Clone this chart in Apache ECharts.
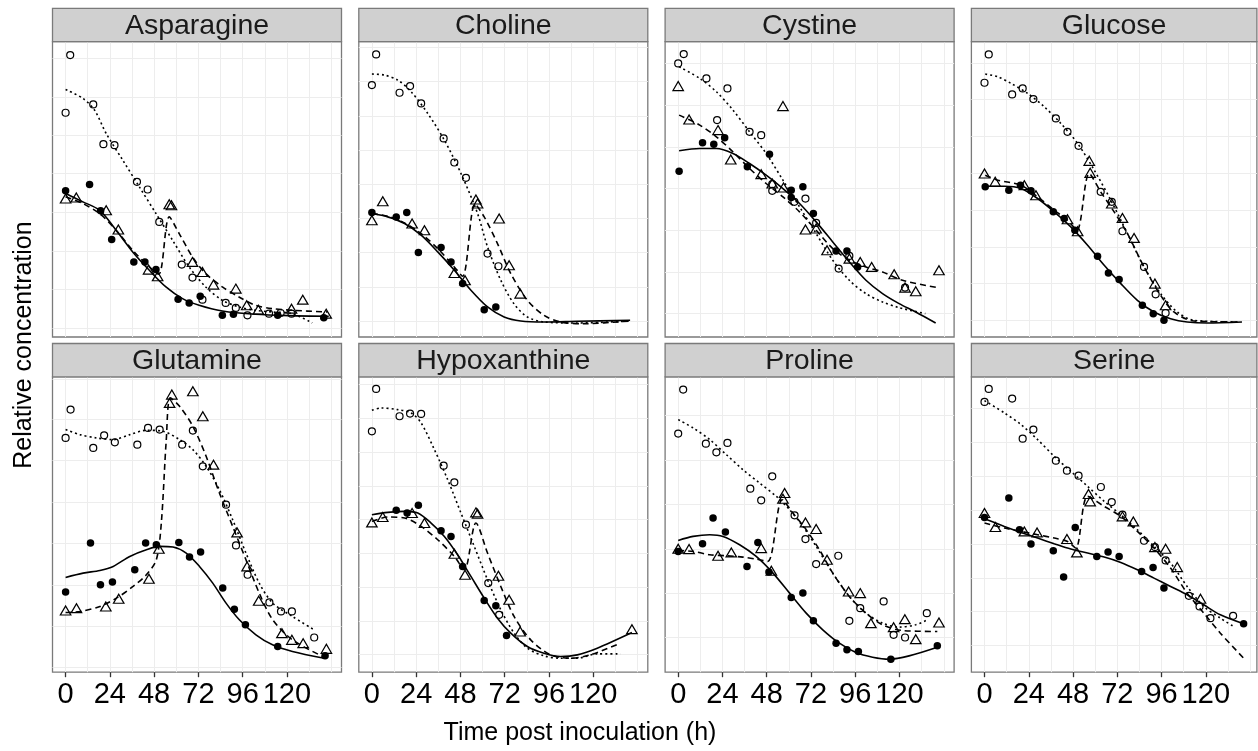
<!DOCTYPE html>
<html>
<head>
<meta charset="utf-8">
<script src="https://cdn.jsdelivr.net/npm/echarts@6/dist/echarts.min.js"></script>
<style>html,body{margin:0;padding:0;background:#fff;}#c{width:1258px;height:751px;}</style>
</head>
<body>
<div id="c"></div>
<script>
// ---------- data: [time (h), relative concentration] ----------
const panelNames = ['Asparagine','Choline','Cystine','Glucose','Glutamine','Hypoxanthine','Proline','Serine'];
const xTicks = [0,24,48,72,96,120];
const xGrid = [0,12,24,36,48,60,72,84,96,108,120,132,144];

const asnFilled = [[0,4.38],[13,4.57],[19,3.78],[25,2.92],[37,2.25],[43,2.25],[49,2.02],[61,1.13],[67,1.02],[73,1.22],[85,0.65],[91,0.68],[115,0.65],[140,0.58]];
const asnOpen = [[0,6.72],[2.5,8.45],[15,6.97],[20.5,5.78],[26.5,5.75],[38.7,4.65],[44.5,4.42],[50.8,3.45],[63,2.17],[68.8,1.78],[74.2,1.12],[86.8,1.02],[92.3,0.87],[98.6,0.65],[110.3,0.7],[116.6,0.72],[122.5,0.7]];
const asnTri = [[0,4.15],[5.8,4.18],[22,3.8],[28.6,3.22],[45,2.02],[49.9,1.82],[56.2,3.98],[57.4,3.95],[68.8,2.25],[74.2,1.95],[80.2,1.57],[92.3,1.45],[98.2,0.95],[104.5,0.82],[122.5,0.85],[128.6,1.12],[141.3,0.7]];
const asnSolid = [[0,4.3],[9.4,4.05],[18.4,3.8],[27.4,3.2],[36.4,2.55],[45.4,2.0],[54.4,1.5],[63.4,1.15],[72.4,0.95],[85,0.78],[103,0.68],[121,0.64],[142.7,0.62]];
const asnDotted = [[0,7.42],[9.4,7.15],[15.7,6.8],[22,6.1],[31,5.3],[40,4.5],[49,3.7],[58,2.9],[67,2.1],[76,1.5],[85,1.1],[94,0.9],[103,0.8],[112,0.75],[123,0.7],[133.7,0.42]];
const asnDashed = [[0,4.2],[9.4,4.0],[18.4,3.7],[27.4,3.2],[36.4,2.6],[45.4,2.1],[50.5,1.88],[56.2,3.6],[61.6,3.1],[68.8,2.4],[76,1.9],[85,1.5],[94,1.2],[103,0.95],[112,0.85],[123,0.8],[142,0.75]];
const asnGrid = [0.25,1.42,2.58,3.73,4.9,6.05,7.2,8.35];

const choFilled = [[0,3.73],[13.2,3.6],[18.9,3.73],[25.2,2.53],[37.5,2.68],[42.9,2.25],[49.2,1.6],[60.9,0.82],[67.2,0.9]];
const choOpen = [[0,7.55],[2.3,8.47],[15,7.32],[20.7,7.52],[26.7,7.0],[38.9,5.95],[44.7,5.23],[51,4.77],[62.7,2.5],[68.6,2.12]];
const choTri = [[0,3.5],[5.9,4.07],[21.8,3.4],[28.5,3.2],[44.7,1.92],[50.5,1.7],[56.4,4.12],[57.3,4.0],[69,3.55],[74.4,2.15],[80.4,1.3]];
const choSolid = [[0,3.7],[8.6,3.6],[17.7,3.4],[26.7,3.05],[35.7,2.55],[44.7,2.0],[53.7,1.4],[62.7,0.9],[71.7,0.6],[80.7,0.48],[93.3,0.45],[111,0.47],[140,0.5]];
const choDotted = [[0,7.88],[6.8,7.85],[14,7.7],[21.3,7.35],[30.3,6.7],[39.3,5.9],[48.3,4.9],[57.3,3.7],[62.7,2.7],[69.9,1.7],[77,1.0],[84.3,0.6],[93.3,0.45],[111,0.42],[140,0.48]];
const choDashed = [[0,3.7],[8.6,3.62],[17.7,3.42],[26.7,3.1],[35.7,2.65],[44.7,2.1],[49.2,1.82],[55.9,3.98],[60.9,3.6],[68.1,2.8],[75.3,1.9],[84.3,1.1],[93.3,0.65],[102.3,0.45],[115,0.4],[140,0.48]];
const choGrid = [0.48,1.5,2.53,3.55,4.58,5.6,6.63,7.65,8.68];

const cysFilled = [[0.5,4.97],[13.2,5.82],[19.3,5.78],[25.2,5.97],[37.5,5.1],[49.5,5.48],[61.3,4.4],[61.3,4.18],[67.6,4.5],[73.3,3.7],[85.6,2.58],[91.5,2.58],[97.3,2.1]];
const cysOpen = [[0,8.2],[3,8.48],[15.3,7.75],[21.1,6.5],[26.7,7.45],[38.7,6.15],[45,6.05],[51,4.58],[51,4.38],[63,4.05],[69,4.15],[74.8,3.42],[87,2.05],[92.8,2.43],[123,1.48]];
const cysTri = [[0,7.52],[5.9,6.52],[21.6,6.2],[28.5,5.32],[45,4.88],[51,4.6],[56.8,6.92],[57.1,4.48],[69,3.22],[74.8,3.25],[80.7,2.6],[92.8,2.35],[98.7,2.25],[104.9,2.1],[117.1,1.88],[123,1.48],[128.8,1.37],[141.4,2.0]];
const cysSolid = [[0.5,5.58],[11.7,5.65],[20.7,5.65],[29.7,5.5],[38.7,5.2],[47.7,4.85],[56.8,4.45],[65.8,4.0],[74.8,3.45],[83.8,2.85],[92.8,2.25],[101.8,1.7],[110.8,1.3],[119.8,1.0],[128.8,0.75],[139.6,0.42]];
const cysDotted = [[0.5,8.1],[11.7,7.75],[20.7,7.35],[29.7,6.8],[38.7,6.15],[47.7,5.5],[56.8,4.7],[65.8,3.9],[74.8,3.1],[83.8,2.3],[92.8,1.7],[101.8,1.3],[110.8,1.05],[119.8,0.88],[134,0.7]];
const cysDashed = [[0.5,6.65],[11.7,6.35],[20.7,6.0],[29.7,5.55],[38.7,5.05],[47.7,4.6],[56.8,4.2],[65.8,3.75],[74.8,3.2],[83.8,2.65],[92.8,2.3],[101.8,2.1],[110.8,1.95],[121.6,1.7],[140.5,1.48]];
const cysGrid = [0.7,1.95,3.2,4.45,5.7,6.95,8.2];

const gluFilled = [[0.4,4.5],[13.2,4.4],[19.5,4.55],[25.2,4.38],[37.3,3.75],[43.2,3.55],[49,3.2],[61.3,2.42],[67.2,1.92],[73,1.72],[85.6,0.95],[91.5,0.7],[97.3,0.5]];
const gluOpen = [[0,7.62],[2.3,8.47],[15,7.27],[20.7,7.45],[26.5,7.13],[38.7,6.55],[45,6.15],[51,5.73],[63,4.35],[69,4.05],[74.8,3.17],[86.5,2.1],[92.8,1.28],[98.2,0.72]];
const gluTri = [[0,4.9],[5.8,4.65],[21.6,4.55],[27.9,4.25],[45,3.53],[50.5,3.17],[56.8,5.28],[57.3,4.92],[69,4.0],[74.8,3.57],[81.1,2.97],[92.4,1.6],[98.2,0.95]];
const gluSolid = [[0.4,4.52],[10.8,4.52],[19.8,4.45],[28.8,4.15],[37.8,3.75],[46.8,3.3],[55.9,2.75],[64.9,2.15],[73.9,1.6],[82.9,1.1],[91.9,0.75],[100.9,0.55],[109.9,0.45],[120.7,0.42],[139.6,0.45]];
const gluDotted = [[0.4,7.88],[7.2,7.8],[14.4,7.6],[23.4,7.3],[32.4,6.9],[41.4,6.4],[50.5,5.8],[59.5,5.0],[68.5,4.1],[77.5,3.1],[86.5,2.1],[95.5,1.3],[104.5,0.75],[113.5,0.5],[138.7,0.45]];
const gluDashed = [[0.4,4.85],[7.2,4.7],[19.8,4.55],[28.8,4.2],[37.8,3.8],[45,3.5],[50.1,3.2],[56.8,4.9],[63,4.35],[70.3,3.75],[77.5,3.1],[86.5,2.1],[95.5,1.25],[102.7,0.75],[113.5,0.48],[138.7,0.45]];
const gluGrid = [0.5,1.6,2.7,3.8,4.9,6.02,7.12,8.2];

const glnFilled = [[0,2.4],[13.5,3.87],[18.9,2.62],[25.4,2.7],[37.5,3.07],[43.4,3.87],[49.2,3.82],[61.4,3.89],[67.2,3.45],[73.2,3.6],[85.2,2.52],[91.5,1.89],[97.5,1.42],[115,0.77],[140.7,0.49]];
const glnOpen = [[0,7.02],[2.7,7.87],[15,6.72],[20.9,7.1],[26.7,6.89],[38.9,6.82],[44.7,7.32],[51,7.27],[63.2,6.82],[69,7.24],[74.4,6.17],[87,5.02],[92.4,3.8],[98.7,2.92],[110.5,2.09],[116.8,1.82],[122.7,1.82],[134.8,1.04]];
const glnTri = [[0,1.85],[5.9,1.92],[21.8,1.97],[28.8,2.2],[45.2,2.8],[50.6,3.7],[56.4,8.07],[57.6,8.32],[69,8.42],[74.4,7.67],[80.2,6.22],[93,4.19],[98.4,3.17],[104.7,2.14],[117.3,1.17],[122.7,0.97],[128.8,0.87],[141.4,0.7]];
const glnSolid = [[0,2.84],[9.5,2.97],[18.6,3.05],[25.8,3.17],[34.8,3.47],[43.8,3.67],[51,3.77],[58.2,3.75],[65.4,3.57],[72.6,3.17],[79.8,2.67],[87,2.07],[94.2,1.57],[103.2,1.12],[112.2,0.82],[123,0.62],[140.2,0.42]];
const glnDotted = [[0,7.27],[7.7,7.12],[16.8,7.02],[25.8,6.97],[34.8,7.12],[43.8,7.25],[52.8,7.22],[61.8,6.97],[69,6.67],[76.2,6.17],[83.4,5.47],[90.6,4.57],[97.8,3.57],[105,2.67],[112.3,2.07],[123,1.67],[134.8,1.27]];
const glnDashed = [[0,1.79],[7.7,1.82],[18.6,1.97],[27.6,2.22],[36.6,2.57],[43.8,2.92],[49.2,3.37],[51.9,4.47],[54.6,6.97],[56.8,8.22],[61.8,7.97],[69,7.37],[76.2,6.47],[83.4,5.37],[90.6,4.37],[97.8,3.37],[105,2.37],[112.3,1.57],[123,0.97],[140.2,0.45]];
const glnGrid = [0.16,1.39,2.62,3.85,5.1,6.34,7.57,8.79];

const hypFilled = [[13.2,4.85],[19.1,4.77],[25.2,5.0],[37.5,4.24],[42.9,4.07],[49.2,3.17],[60.9,2.15],[67.2,1.99],[73,1.1]];
const hypOpen = [[0,7.22],[2.3,8.49],[15,7.67],[20.7,7.75],[26.7,7.74],[38.9,6.19],[44.7,5.69],[51,4.42],[63.1,2.67],[69,1.72]];
const hypTri = [[0,4.49],[5.9,4.65],[21.8,4.77],[28.5,4.47],[44.7,3.55],[50.5,2.92],[56.4,4.79],[57.3,4.75],[68.6,2.89],[74.4,2.17],[80.4,1.22],[141,1.29]];
const hypSolid = [[0,4.72],[8.6,4.79],[17.7,4.82],[24.9,4.77],[32.1,4.47],[39.3,4.07],[46.5,3.52],[53.7,2.87],[60.9,2.22],[68.1,1.62],[75.3,1.17],[84.3,0.77],[93.3,0.57],[102.3,0.47],[111.4,0.52],[122.2,0.72],[141,1.19]];
const hypDotted = [[0,7.85],[5,7.92],[14,7.87],[21.3,7.77],[26.7,7.47],[33.9,6.67],[41.1,5.77],[48.3,4.77],[55.5,3.77],[62.7,2.77],[69.9,1.87],[77.1,1.17],[84.3,0.72],[93.3,0.49],[102.3,0.42],[111.4,0.42],[122.2,0.55],[134.8,0.55]];
const hypDashed = [[0,4.52],[8.6,4.65],[17.7,4.62],[26.7,4.37],[35.7,3.97],[44.7,3.47],[50.1,3.07],[56.4,4.47],[62.7,3.57],[69.9,2.57],[77.1,1.67],[86.1,0.97],[96.9,0.52],[107.7,0.42],[118.5,0.52],[133.9,0.85]];
const hypGrid = [0.54,1.54,2.54,3.55,4.57,5.57,6.59,7.6,8.62];

const proFilled = [[0,3.62],[13.2,3.85],[18.9,4.62],[25.6,4.2],[37.3,3.17],[43.2,3.89],[49.2,3.0],[61.3,2.24],[67.6,2.37],[73.3,1.54],[85.6,0.87],[91.5,0.67],[97.7,0.62],[115.3,0.39],[140.5,0.79]];
const proOpen = [[0,7.15],[2.7,8.47],[15,6.85],[20.7,6.59],[26.7,6.87],[39.1,5.5],[45,5.15],[51,5.87],[63.1,4.7],[69,3.99],[74.8,3.24],[86.8,3.49],[92.8,1.54],[98.7,1.92],[111.4,2.12],[116.8,1.12],[123,1.04],[134.8,1.77]];
const proTri = [[0,3.7],[5.9,3.69],[21.6,3.49],[28.8,3.59],[45,3.72],[50.5,3.04],[56.8,5.2],[57.7,5.37],[69,4.49],[74.8,4.29],[80.7,3.37],[92.4,2.42],[98.7,2.37],[104.5,1.47],[116.8,1.35],[122.9,1.59],[128.8,0.99],[141.4,1.49]];
const proSolid = [[0,3.95],[8.1,4.07],[17.1,4.12],[24.3,4.07],[33.3,3.82],[42.3,3.47],[51.4,2.97],[60.4,2.37],[69.4,1.77],[78.4,1.27],[87.4,0.87],[96.4,0.59],[105.4,0.45],[114.4,0.39],[125.2,0.49],[140.5,0.75]];
const proDotted = [[0,7.57],[8.1,7.32],[17.1,6.97],[26.1,6.52],[35.1,6.07],[44.1,5.67],[53.2,5.27],[60.4,4.87],[67.6,4.37],[74.8,3.77],[83.8,2.97],[92.8,2.27],[101.8,1.77],[110.8,1.47],[119.8,1.35],[128.8,1.42],[135.1,1.57]];
const proDashed = [[0,3.65],[8.1,3.62],[17.1,3.52],[26.1,3.49],[35.1,3.45],[42.3,3.39],[48.6,3.32],[56.4,5.17],[62.2,4.77],[69.4,4.27],[76.6,3.67],[83.8,2.97],[92.8,2.27],[101.8,1.77],[110.8,1.42],[121.6,1.25],[140.5,1.22]];
const proGrid = [1.04,2.37,3.69,5.02,6.35,7.69];

const serFilled = [[0,4.64],[13.2,5.22],[19,4.27],[25.2,3.84],[37.3,3.64],[42.9,2.85],[49.2,4.34],[60.9,3.47],[67,3.6],[73,3.47],[85.2,3.02],[91.4,3.14],[97.3,2.52],[140.5,1.45]];
const serOpen = [[0,8.1],[2.3,8.49],[15,8.2],[20.7,7.0],[26.5,7.27],[38.7,6.34],[44.7,6.04],[51,5.89],[63.1,5.55],[69,5.1],[74.8,4.72],[86.5,3.94],[92.4,3.75],[98.2,3.35],[110.8,2.29],[116.6,1.97],[122.5,1.62],[134.8,1.69]];
const serTri = [[0,4.77],[5.9,4.35],[21.6,4.22],[28.5,4.19],[44.7,3.99],[50.1,3.59],[56.4,5.34],[57.3,5.12],[74.8,4.67],[80.7,4.52],[92.4,3.75],[98.2,3.7],[104.5,3.15],[117.1,2.2]];
const serSolid = [[0,4.6],[10.8,4.37],[19.8,4.19],[28.8,4.02],[37.8,3.85],[46.8,3.69],[55.9,3.57],[64.9,3.45],[73.9,3.29],[82.9,3.07],[91.9,2.82],[100.9,2.57],[109.9,2.32],[118.9,2.02],[127.9,1.72],[140.5,1.45]];
const serDotted = [[0,8.14],[10.8,7.77],[19.8,7.42],[28.8,6.97],[37.8,6.47],[46.8,6.02],[55.9,5.57],[64.9,5.12],[73.9,4.72],[82.9,4.27],[91.9,3.77],[100.9,3.27],[109.9,2.57],[118.9,1.97],[127.9,1.62],[135.1,1.37]];
const serDashed = [[0,4.47],[10.8,4.32],[19.8,4.22],[28.8,4.12],[37.8,4.02],[45,3.92],[49.5,3.72],[55.9,5.27],[64.9,4.97],[73.9,4.67],[82.9,4.22],[91.9,3.72],[100.9,3.12],[109.9,2.37],[118.9,1.77],[127.9,1.17],[140.5,0.42]];
const serGrid = [0.82,1.82,2.82,3.84,4.85,5.87,6.89,7.92];

const panelData = [
  [asnFilled, asnOpen, asnTri, asnSolid, asnDotted, asnDashed, asnGrid],
  [choFilled, choOpen, choTri, choSolid, choDotted, choDashed, choGrid],
  [cysFilled, cysOpen, cysTri, cysSolid, cysDotted, cysDashed, cysGrid],
  [gluFilled, gluOpen, gluTri, gluSolid, gluDotted, gluDashed, gluGrid],
  [glnFilled, glnOpen, glnTri, glnSolid, glnDotted, glnDashed, glnGrid],
  [hypFilled, hypOpen, hypTri, hypSolid, hypDotted, hypDashed, hypGrid],
  [proFilled, proOpen, proTri, proSolid, proDotted, proDashed, proGrid],
  [serFilled, serOpen, serTri, serSolid, serDotted, serDashed, serGrid]
];

// ---------- layout ----------
const FONT = "'Liberation Sans', Arial, Helvetica, sans-serif";
const colLeft = [52.5, 358.8, 665.1, 971.4];
const colWidth = [289, 289, 289, 285.5];
const colXMax = [149.6, 149.6, 149.6, 147.7];
const rowStripTop = [8.3, 343.5];
const stripH = 33.4;
const rowPlotTop = [41.7, 376.9];
const plotH = 295.3;
const BORDER = '#7a7a7a';

const grids = [], xAxes = [], yAxes = [], series = [], graphics = [];

panelNames.forEach((name, i) => {
  const r = Math.floor(i / 4), c = i % 4;
  const [filled, open, tri, solid, dotted, dashed, hGrid] = panelData[i];
  grids.push({
    left: colLeft[c], top: rowPlotTop[r], width: colWidth[c], height: plotH,
    show: true, backgroundColor: '#fff', borderColor: BORDER, borderWidth: 1.3, containLabel: false
  });
  const bottomRow = r === 1;
  xAxes.push({
    type: 'value', gridIndex: i, min: -7.1, max: colXMax[c],
    axisLine: { show: false }, splitLine: { show: false },
    axisTick: { show: bottomRow, customValues: xTicks, length: 5, lineStyle: { color: '#333', width: 1.3 } },
    axisLabel: { show: bottomRow, customValues: xTicks, fontSize: 29, color: '#000', margin: 8, fontFamily: FONT }
  });
  yAxes.push({
    type: 'value', gridIndex: i, min: 0, max: 8.85,
    axisLine: { show: false }, axisTick: { show: false }, axisLabel: { show: false }, splitLine: { show: false }
  });
  // background grid lines (kept beneath all marks)
  series.push({
    type: 'line', xAxisIndex: i, yAxisIndex: i, data: [], z: 0, zlevel: 0, silent: true,
    markLine: {
      z: 0, silent: true, symbol: ['none', 'none'], animation: false,
      label: { show: false },
      lineStyle: { color: '#ededed', width: 1, type: 'solid' },
      data: hGrid.map(v => ({ yAxis: v })).concat(xGrid.map(v => ({ xAxis: v })))
    }
  });
  const lineBase = { type: 'line', xAxisIndex: i, yAxisIndex: i, showSymbol: false, symbol: 'none', smooth: 0.3, z: 6, silent: true };
  series.push(Object.assign({}, lineBase, { data: solid, lineStyle: { color: '#000', width: 1.6, type: 'solid' } }));
  series.push(Object.assign({}, lineBase, { data: dotted, lineStyle: { color: '#000', width: 1.6, type: [2, 3] } }));
  series.push(Object.assign({}, lineBase, { data: dashed, lineStyle: { color: '#000', width: 1.6, type: [6, 4] } }));
  series.push({ type: 'scatter', xAxisIndex: i, yAxisIndex: i, data: filled, symbol: 'circle', symbolSize: 7.5, z: 7, silent: true,
    itemStyle: { color: '#000', opacity: 1 } });
  series.push({ type: 'scatter', xAxisIndex: i, yAxisIndex: i, data: open, symbol: 'circle', symbolSize: 7, z: 7, silent: true,
    itemStyle: { color: 'rgba(0,0,0,0)', borderColor: '#000', borderWidth: 1.2, opacity: 1 } });
  series.push({ type: 'scatter', xAxisIndex: i, yAxisIndex: i, data: tri, symbol: 'triangle', symbolSize: [10.5, 9], z: 7, silent: true,
    itemStyle: { color: 'rgba(0,0,0,0)', borderColor: '#000', borderWidth: 1.2, opacity: 1 } });
  // strip
  graphics.push({ type: 'rect', z: 10, silent: true,
    shape: { x: colLeft[c], y: rowStripTop[r], width: colWidth[c], height: stripH },
    style: { fill: '#d0d0d0', stroke: BORDER, lineWidth: 1.3 } });
  graphics.push({ type: 'text', z: 11, silent: true,
    x: colLeft[c] + colWidth[c] / 2, y: rowStripTop[r] + stripH / 2 + 1,
    style: { text: name, font: '28.5px ' + FONT, fill: '#1a1a1a', align: 'center', verticalAlign: 'middle' } });
});

graphics.push({ type: 'text', silent: true, x: 580, y: 733,
  style: { text: 'Time post inoculation (h)', font: '25px ' + FONT, fill: '#000', align: 'center', verticalAlign: 'middle' } });
graphics.push({ type: 'text', silent: true, x: 24, y: 345, rotation: Math.PI / 2,
  style: { text: 'Relative concentration', font: '25px ' + FONT, fill: '#000', align: 'center', verticalAlign: 'middle' } });

const chart = echarts.init(document.getElementById('c'), null, { renderer: 'canvas' });
chart.setOption({
  animation: false,
  backgroundColor: '#fff',
  grid: grids, xAxis: xAxes, yAxis: yAxes, series: series, graphic: graphics
});
</script>
</body>
</html>
